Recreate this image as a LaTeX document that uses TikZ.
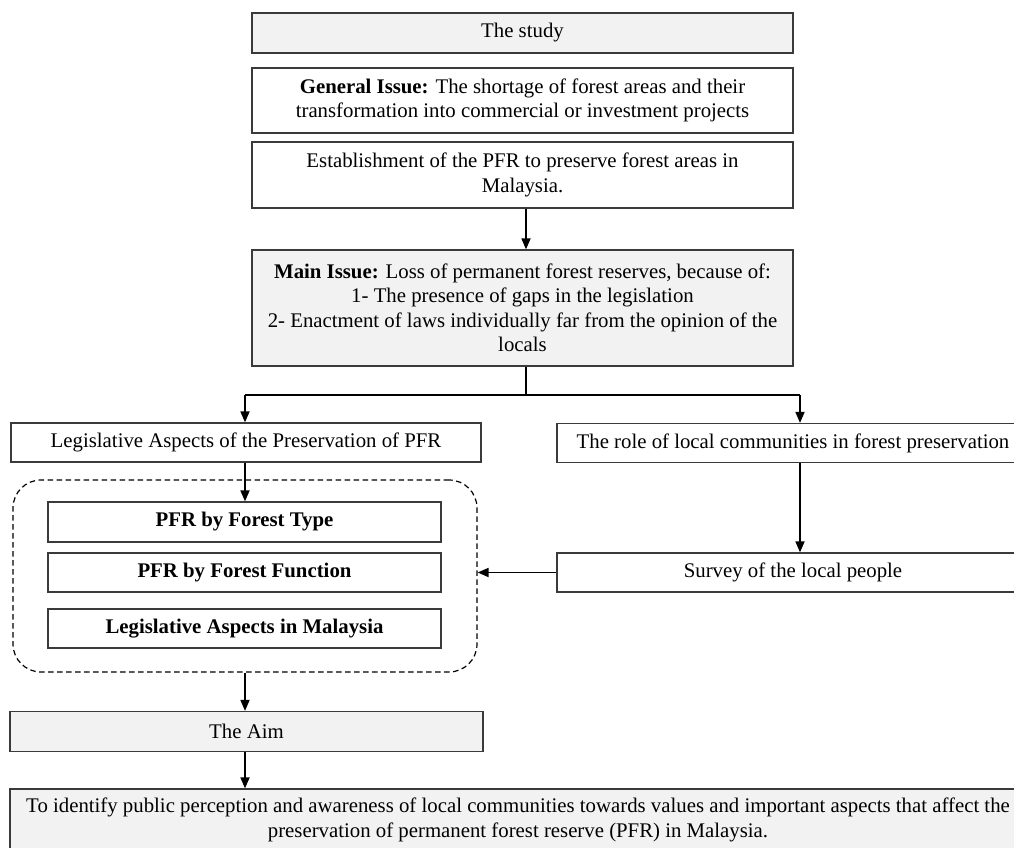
\documentclass[tikz,border=0pt]{standalone}
\usepackage{fontspec}
\setmainfont{Liberation Serif}
\usetikzlibrary{arrows.meta,calc}
\definecolor{boxgray}{HTML}{F2F2F2}
\definecolor{edge}{HTML}{3A3A3A}
\begin{document}
\begin{tikzpicture}[x=1pt,y=-1pt,
  every node/.style={font=\fontsize{20.8}{24.5}\selectfont},
  box/.style={draw=edge, line width=1.2pt, inner sep=0pt, align=center},
  gbox/.style={box, fill=boxgray},
  bbox/.style={box, font=\fontsize{20.8}{24.5}\selectfont\bfseries},
  arr/.style={-{Triangle[length=11pt,width=9pt]}, line width=1.7pt},
  plain/.style={line width=1.2pt}
]
\useasboundingbox (0,0) rectangle (1014,848);

\node[gbox, minimum width=541, minimum height=40] (study) at (522.5,33) {The study};
\node[box, minimum width=541, minimum height=65] (gen) at (522.5,100.5)
  {\textbf{General Issue:} The shortage of forest areas and their\\ transformation into commercial or investment projects};
\node[box, minimum width=541, minimum height=66] (est) at (522.5,175)
  {Establishment of the PFR to preserve forest areas in\\ Malaysia.};
\node[gbox, minimum width=541, minimum height=116] (main) at (522.5,308)
  {\textbf{Main Issue:} Loss of permanent forest reserves, because of:\\ 1- The presence of gaps in the legislation\\ 2- Enactment of laws individually far from the opinion of the\\ locals};

\node[box, minimum width=470, minimum height=39] (legis) at (246,442.5)
  {Legislative Aspects of the Preservation of PFR};
\node[box, minimum width=472, minimum height=39] (role) at (793,443)
  {The role of local communities in forest preservation};

\node[draw=black, line width=1.2pt, dash pattern=on 5.5pt off 3.5pt, rounded corners=28pt,
  minimum width=464, minimum height=192] (grp) at (245,576) {};
\node[bbox, minimum width=393, minimum height=40] (t1) at (244.5,522) {PFR by Forest Type};
\node[bbox, minimum width=393, minimum height=39] (t2) at (244.5,572.5) {PFR by Forest Function};
\node[bbox, minimum width=393, minimum height=39] (t3) at (244.5,628.5) {Legislative Aspects in Malaysia};

\node[box, minimum width=472, minimum height=39] (survey) at (793,572.5) {Survey of the local people};

\node[gbox, minimum width=473, minimum height=40] (aim) at (246.5,731.5) {The Aim};
\node[gbox, minimum width=1016, minimum height=62] (goal) at (518,820)
  {To identify public perception and awareness of local communities towards values and important aspects that affect the\\ preservation of permanent forest reserve (PFR) in Malaysia.};

\coordinate (sp) at (526,395);
\coordinate (lc) at (245,395);
\coordinate (rc) at (800,395);
\draw[arr] ([xshift=3.5pt]est.south) -- ([xshift=3.5pt]main.north);
\draw[plain] ([xshift=3.5pt]main.south) -- (sp);
\draw[plain] (lc) -- (rc);
\draw[arr] (lc) -- (lc |- legis.north);
\draw[arr] (rc) -- (rc |- role.north);
\draw[arr] (lc |- legis.south) -- (lc |- t1.north);
\draw[arr] (rc |- role.south) -- (rc |- survey.north);
\draw[arr] (survey.west) -- (survey.west -| grp.east);
\draw[arr] (lc |- grp.south) -- (lc |- aim.north);
\draw[arr] (lc |- aim.south) -- (lc |- goal.north);
\end{tikzpicture}
\end{document}
